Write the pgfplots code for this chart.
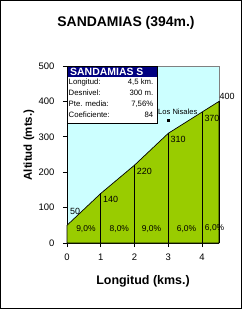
\documentclass[border=0pt]{standalone}
\usepackage{pgfplots}
\pgfplotsset{compat=1.18}
\usepackage{fontspec}
\setmainfont{Liberation Sans}
\definecolor{bgcyan}{HTML}{CCFFFF}
\definecolor{hillgreen}{HTML}{99CC00}
\definecolor{navy}{HTML}{000080}
\definecolor{bordergray}{HTML}{808080}
\begin{document}
\begin{tikzpicture}
\draw[line width=1bp] (-66.5bp,-65.5bp) rectangle (174.5bp,242.5bp);
\begin{axis}[
  scale only axis, width=152bp, height=177bp,
  xmin=0, xmax=4.5, ymin=0, ymax=500,
  xtick={0,1,2,3,4}, ytick={0,100,200,300,400,500},
  axis x line*=bottom, axis y line*=left,
  axis line style={black, line width=0.8bp},
  axis background/.style={fill=bgcyan},
  tick align=outside, major tick length=4bp,
  tick style={black, line width=0.8bp},
  /pgf/number format/assume math mode=true,
  tick label style={font=\fontsize{9.5}{11}\selectfont},
  yticklabel style={xshift=-5bp},
  xticklabel style={yshift=-3bp},
  clip=false,
]
\draw[bordergray, line width=0.8bp] (rel axis cs:0,1) -- (rel axis cs:1,1) -- (rel axis cs:1,0);
\addplot[fill=hillgreen, draw=black, line width=0.7bp] coordinates {(0,50) (1,140) (2,220) (3,310) (4,370) (4.5,400)} \closedcycle;
\addplot[ycomb, black, line width=0.8bp, mark=none] coordinates {(1,140) (2,220) (3,310) (4,370) (4.5,400)};
% point labels, north west
\addplot[draw=none, mark=none, nodes near coords, point meta=y,
  every node near coord/.append style={anchor=north west, inner sep=0pt, xshift=2.2bp, yshift=-3bp, font=\fontsize{9}{10}\selectfont, black}]
  coordinates {(1,140) (2,220) (3,310) (4,370)};
\addplot[draw=none, mark=none, nodes near coords, point meta=y,
  every node near coord/.append style={anchor=south west, inner sep=0pt, xshift=3bp, yshift=11bp, font=\fontsize{9}{10}\selectfont, black}]
  coordinates {(0,50)};
\addplot[draw=none, mark=none, nodes near coords, point meta=y,
  every node near coord/.append style={anchor=south west, inner sep=0pt, xshift=0.5bp, yshift=1.4bp, font=\fontsize{9}{10}\selectfont, black}]
  coordinates {(4.5,400)};
% gradients
\addplot[draw=none, mark=none, nodes near coords={\pgfplotspointmeta\%}, point meta=explicit symbolic,
  every node near coord/.append style={anchor=center, inner sep=0pt, font=\fontsize{8.5}{10}\selectfont, black}]
  table[meta=lab] {
x y lab
0.56 38.7 9,0
1.55 38.7 8,0
2.5 38.7 9,0
3.54 38.7 6,0
4.37 43 6,0
};
% Los Nisales
\addplot[only marks, mark=square*, mark size=0.9bp, black] coordinates {(3,347)};
\addplot[draw=none, mark=none, nodes near coords={Los Nisales},
  every node near coord/.append style={anchor=center, inner sep=0pt, font=\fontsize{7.6}{9}\selectfont, black}]
  coordinates {(3.28,371)};
\end{axis}
% info box
\fill[white] (0,177bp) rectangle (90bp,119.7bp);
\fill[navy] (0,177bp) rectangle (90bp,166.3bp);
\draw[black, line width=0.8bp] (0,177bp) rectangle (90bp,119.7bp);
\node[anchor=base west, inner sep=0pt, text=white, font=\bfseries\fontsize{10.5}{12}\selectfont] at (3bp,167.8bp) {SANDAMIAS S};
\begin{scope}[every node/.style={inner sep=0pt, font=\fontsize{7.8}{9}\selectfont}]
\node[anchor=base west] at (1.5bp,158.9bp) {Longitud:};
\node[anchor=base west] at (1.5bp,147.9bp) {Desnivel:};
\node[anchor=base west] at (1.5bp,136.9bp) {Pte. media:};
\node[anchor=base west] at (1.5bp,125.9bp) {Coeficiente:};
\node[anchor=base east] at (86.5bp,158.9bp) {4,5 km.};
\node[anchor=base east] at (86.5bp,147.9bp) {300 m.};
\node[anchor=base east] at (86.5bp,136.9bp) {7,56\%};
\node[anchor=base east] at (86.5bp,125.9bp) {84};
\end{scope}
% titles
\node[font=\bfseries\fontsize{14}{16}\selectfont] at (59bp,219.7bp) {SANDAMIAS (394m.)};
\node[font=\bfseries\fontsize{12.5}{14}\selectfont] at (76bp,-38.7bp) {Longitud (kms.)};
\node[font=\bfseries\fontsize{11.5}{13}\selectfont, rotate=90] at (-38bp,98bp) {Altitud (mts.)};
\end{tikzpicture}
\end{document}
